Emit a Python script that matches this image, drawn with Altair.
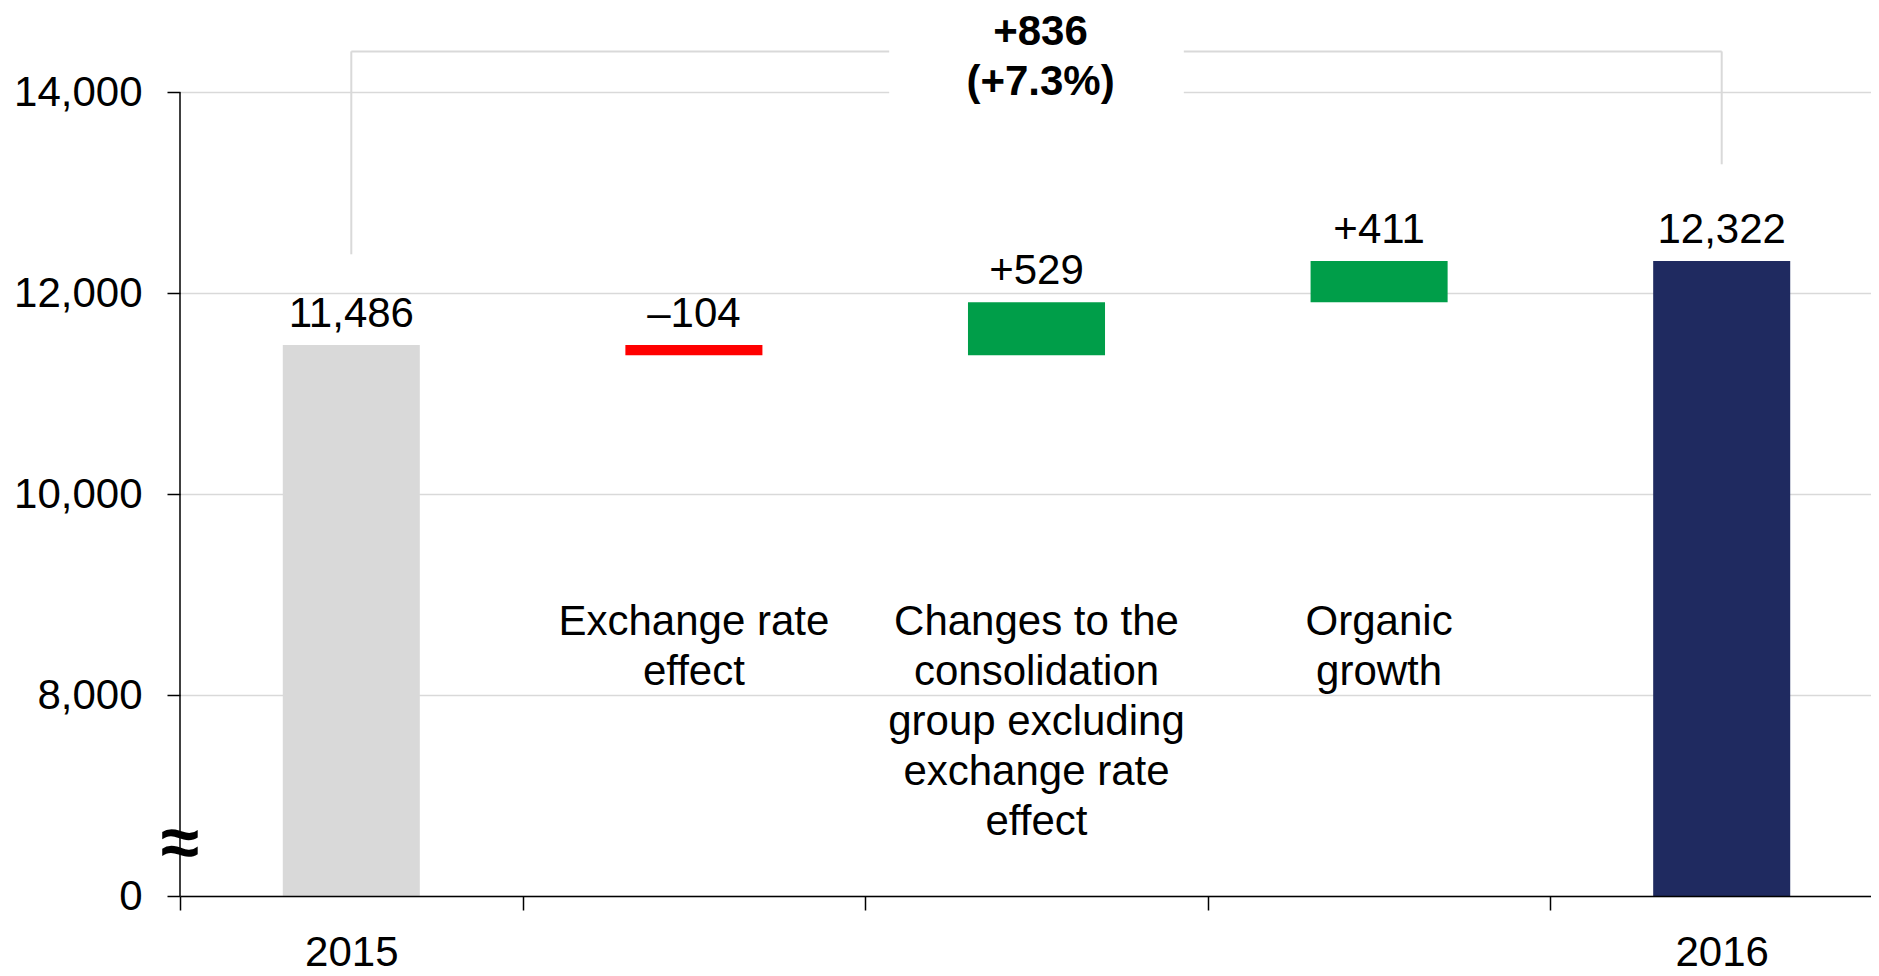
import altair as alt
import pandas as pd

# ---- data ----
categories = [
    "2015",
    "Exchange rate effect",
    "Changes to the consolidation group excluding exchange rate effect",
    "Organic growth",
    "2016",
]
bar_start = [6000, 11486, 11382, 11911, 6000]   # 6000 sits at the broken-axis "0"
bar_end = [11486, 11382, 11911, 12322, 12322]
bar_colors = ["#d9d9d9", "#ff0000", "#009e49", "#009e49", "#1f2a60"]
value_labels = ["11,486", "\u2013104", "+529", "+411", "12,322"]
label_top = [11486, 11486, 11911, 12322, 12322]
descriptions = [
    "",
    "Exchange rate\neffect",
    "Changes to the\nconsolidation\ngroup excluding\nexchange rate\neffect",
    "Organic\ngrowth",
    "",
]
y_ticks = [6000, 8000, 10000, 12000, 14000]
total_change = "+836\n(+7.3%)"
bracket_top = 14408
bracket_left_bottom = 12388
bracket_right_bottom = 13284

FONT = "Liberation Sans"
FS = 42

df = pd.DataFrame({
    "cat": categories,
    "start": bar_start,
    "end": bar_end,
    "color": bar_colors,
    "label": value_labels,
    "top": label_top,
    "desc": descriptions,
})

y_scale = alt.Scale(domain=[6000, 14800], zero=False, nice=False)
y_axis = alt.Axis(
    title=None, values=y_ticks,
    labelExpr="datum.value == 6000 ? '0' : format(datum.value, ',')",
    labelFont=FONT, labelFontSize=FS, labelColor="black", labelPadding=25,
    tickSize=13, tickColor="black", tickWidth=1.5,
    domain=False, grid=True, gridColor="#d9d9d9", gridWidth=1.5,
)
# the reference plot runs past the right edge of the picture
x_scale = alt.Scale(domain=categories, range=[0, 1713], paddingInner=0, paddingOuter=0)
x_axis = alt.Axis(
    title=None, labelAngle=0, tickBand="extent",
    labelExpr="(datum.value == '2015' || datum.value == '2016') ? datum.label : ''",
    labelFont=FONT, labelFontSize=FS, labelColor="black", labelPadding=22,
    tickSize=14, tickColor="black", tickWidth=1.5,
    domainColor="black", domainWidth=1.5, grid=False, zindex=1,
)


def X(field):
    return alt.X(field, scale=x_scale, axis=x_axis)


def Y(field=None, datum=None):
    if datum is not None:
        return alt.Y(datum=datum, scale=y_scale, axis=y_axis)
    return alt.Y(field, scale=y_scale, axis=y_axis)


base = alt.Chart(df)

bars = base.mark_bar(width=alt.RelativeBandSize(0.4)).encode(
    x=X("cat:N"), y=Y("start:Q"), y2="end:Q",
    color=alt.Color("color:N", scale=None),
)

bracket_df = pd.DataFrame({
    "cat": [categories[0], categories[4]],
    "low": [bracket_left_bottom, bracket_right_bottom],
    "high": [bracket_top, bracket_top],
})
bracket_v = alt.Chart(bracket_df).mark_rule(color="#d9d9d9", strokeWidth=2).encode(
    x=X("cat:N"), y=Y("low:Q"), y2="high:Q"
)
bracket_h_df = pd.DataFrame({"cat": [categories[0]], "b": [categories[4]], "y": [bracket_top]})
bracket_h = alt.Chart(bracket_h_df).mark_rule(color="#d9d9d9", strokeWidth=2).encode(
    x=X("cat:N"), x2="b:N", y=Y("y:Q"),
)

mask_df = pd.DataFrame({"cat": [categories[2]], "lo": [13930], "hi": [14800]})
mask = alt.Chart(mask_df).mark_bar(width=alt.RelativeBandSize(0.86), color="white").encode(
    x=X("cat:N"), y=Y("lo:Q"), y2="hi:Q"
)

yaxis_line = alt.Chart(pd.DataFrame({"a": [6000], "b": [14000]})).mark_rule(
    color="black", strokeWidth=1.5
).encode(x=alt.value(0), y=Y("a:Q"), y2="b:Q")

value_text = base.mark_text(
    baseline="alphabetic", dy=-18, font=FONT, fontSize=FS, color="black"
).encode(x=X("cat:N"), y=Y("top:Q"), text="label:N")

desc_text = base.mark_text(
    baseline="top", lineBreak="\n", lineHeight=50, font=FONT, fontSize=FS, color="black"
).encode(x=X("cat:N"), y=Y(datum=8925), text="desc:N")

total_df = pd.DataFrame({"cat": [categories[2]], "t": [total_change]})
total_text = alt.Chart(total_df).mark_text(
    baseline="top", lineBreak="\n", lineHeight=50, font=FONT, fontSize=FS,
    fontWeight="bold", color="black", dx=4
).encode(x=X("cat:N"), y=Y(datum=14800), text="t:N")

break_mark = alt.Chart(pd.DataFrame({"s": ["\u2248"]})).mark_text(
    baseline="alphabetic", font=FONT, fontSize=70, fontWeight="bold", color="black"
).encode(x=alt.value(0), y=Y(datum=6300), text="s:N")

chart = alt.layer(
    bracket_v, bracket_h, mask, bars, yaxis_line, value_text, desc_text, total_text, break_mark
).properties(
    width=1691, height=884,
    autosize=alt.AutoSizeParams(type="none"),
    padding={"left": 172, "top": 4, "right": 0, "bottom": 80},
    background="white",
).configure_view(stroke=None)

chart.save("out.html", embed_options={"renderer": "svg", "actions": False})
